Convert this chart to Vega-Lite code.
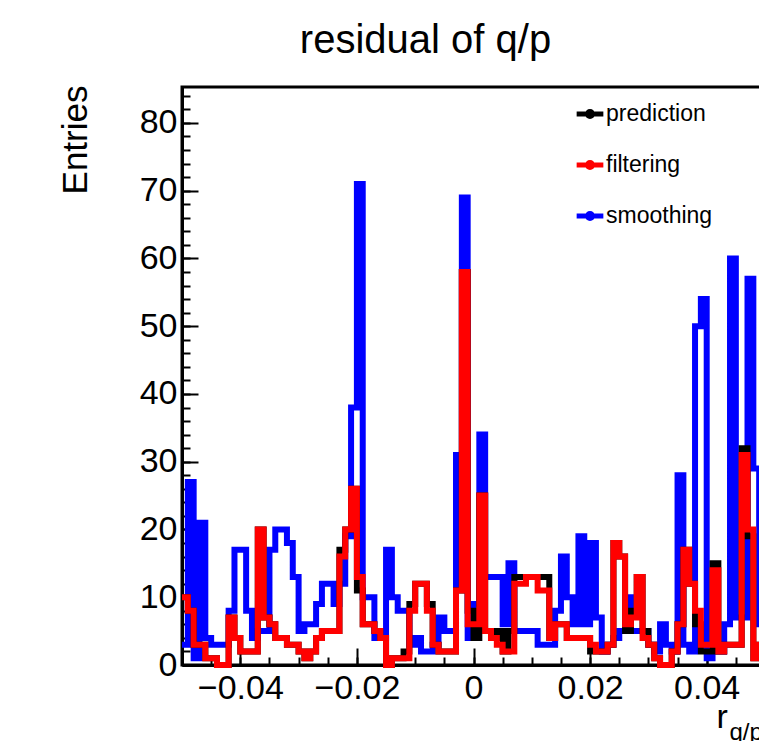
{
  "$schema": "https://vega.github.io/schema/vega-lite/v6.json",
  "autosize": "none",
  "padding": {"left": 182, "top": 87, "right": 0, "bottom": 76},
  "width": 583,
  "height": 578,
  "background": "white",
  "config": {"view": {"stroke": "black", "strokeWidth": 3}, "font": "Liberation Sans"},
  "title": {"text": "residual of q/p", "fontSize": 40, "font": "Liberation Sans", "fontWeight": "normal", "anchor": "middle", "dx": -48, "dy": 43, "offset": 35, "baseline": "alphabetic", "color": "black"},
  "data": {"values": [
    {"x": -0.05, "prediction": 10, "filtering": 10, "smoothing": 3},
    {"x": -0.049, "prediction": 8, "filtering": 8, "smoothing": 27},
    {"x": -0.048, "prediction": 3, "filtering": 3, "smoothing": 1},
    {"x": -0.047, "prediction": 3, "filtering": 3, "smoothing": 21},
    {"x": -0.046, "prediction": 1, "filtering": 1, "smoothing": 4},
    {"x": -0.045, "prediction": 1, "filtering": 1, "smoothing": 3},
    {"x": -0.044, "prediction": 0, "filtering": 0, "smoothing": 3},
    {"x": -0.043, "prediction": 0, "filtering": 0, "smoothing": 3},
    {"x": -0.042, "prediction": 7, "filtering": 7, "smoothing": 8},
    {"x": -0.041, "prediction": 4, "filtering": 4, "smoothing": 17},
    {"x": -0.04, "prediction": 2, "filtering": 2, "smoothing": 17},
    {"x": -0.039, "prediction": 2, "filtering": 2, "smoothing": 8},
    {"x": -0.038, "prediction": 2, "filtering": 2, "smoothing": 4},
    {"x": -0.037, "prediction": 20, "filtering": 20, "smoothing": 5},
    {"x": -0.036, "prediction": 7, "filtering": 7, "smoothing": 5},
    {"x": -0.035, "prediction": 6, "filtering": 6, "smoothing": 17},
    {"x": -0.034, "prediction": 4, "filtering": 4, "smoothing": 20},
    {"x": -0.033, "prediction": 4, "filtering": 4, "smoothing": 20},
    {"x": -0.032, "prediction": 3, "filtering": 3, "smoothing": 18},
    {"x": -0.031, "prediction": 3, "filtering": 3, "smoothing": 13},
    {"x": -0.03, "prediction": 2, "filtering": 2, "smoothing": 5},
    {"x": -0.029, "prediction": 1, "filtering": 1, "smoothing": 6},
    {"x": -0.028, "prediction": 2, "filtering": 2, "smoothing": 6},
    {"x": -0.027, "prediction": 4, "filtering": 4, "smoothing": 9},
    {"x": -0.026, "prediction": 5, "filtering": 5, "smoothing": 12},
    {"x": -0.025, "prediction": 5, "filtering": 5, "smoothing": 12},
    {"x": -0.024, "prediction": 5, "filtering": 5, "smoothing": 9},
    {"x": -0.023, "prediction": 17, "filtering": 16, "smoothing": 12},
    {"x": -0.022, "prediction": 20, "filtering": 20, "smoothing": 19},
    {"x": -0.021, "prediction": 26, "filtering": 26, "smoothing": 38},
    {"x": -0.02, "prediction": 11, "filtering": 13, "smoothing": 71},
    {"x": -0.019, "prediction": 6, "filtering": 6, "smoothing": 10},
    {"x": -0.018, "prediction": 6, "filtering": 6, "smoothing": 10},
    {"x": -0.017, "prediction": 5, "filtering": 5, "smoothing": 4},
    {"x": -0.016, "prediction": 4, "filtering": 4, "smoothing": 4},
    {"x": -0.015, "prediction": 0, "filtering": 0, "smoothing": 17},
    {"x": -0.014, "prediction": 1, "filtering": 1, "smoothing": 10},
    {"x": -0.013, "prediction": 1, "filtering": 1, "smoothing": 8},
    {"x": -0.012, "prediction": 2, "filtering": 1, "smoothing": 8},
    {"x": -0.011, "prediction": 9, "filtering": 8, "smoothing": 3},
    {"x": -0.01, "prediction": 12, "filtering": 12, "smoothing": 4},
    {"x": -0.009, "prediction": 12, "filtering": 12, "smoothing": 2},
    {"x": -0.008, "prediction": 9, "filtering": 8, "smoothing": 2},
    {"x": -0.007, "prediction": 3, "filtering": 3, "smoothing": 3},
    {"x": -0.006, "prediction": 2, "filtering": 2, "smoothing": 7},
    {"x": -0.005, "prediction": 2, "filtering": 2, "smoothing": 5},
    {"x": -0.004, "prediction": 2, "filtering": 2, "smoothing": 5},
    {"x": -0.003, "prediction": 11, "filtering": 11, "smoothing": 31},
    {"x": -0.002, "prediction": 58, "filtering": 58, "smoothing": 69},
    {"x": -0.001, "prediction": 8, "filtering": 6, "smoothing": 4},
    {"x": 0, "prediction": 4, "filtering": 6, "smoothing": 9},
    {"x": 0.001, "prediction": 25, "filtering": 25, "smoothing": 34},
    {"x": 0.002, "prediction": 5, "filtering": 5, "smoothing": 13},
    {"x": 0.003, "prediction": 4, "filtering": 4, "smoothing": 13},
    {"x": 0.004, "prediction": 5, "filtering": 3, "smoothing": 13},
    {"x": 0.005, "prediction": 2, "filtering": 2, "smoothing": 6},
    {"x": 0.006, "prediction": 5, "filtering": 2, "smoothing": 15},
    {"x": 0.007, "prediction": 13, "filtering": 12, "smoothing": 5},
    {"x": 0.008, "prediction": 13, "filtering": 12, "smoothing": 5},
    {"x": 0.009, "prediction": 13, "filtering": 13, "smoothing": 5},
    {"x": 0.01, "prediction": 13, "filtering": 13, "smoothing": 5},
    {"x": 0.011, "prediction": 13, "filtering": 11, "smoothing": 3},
    {"x": 0.012, "prediction": 13, "filtering": 11, "smoothing": 3},
    {"x": 0.013, "prediction": 4, "filtering": 4, "smoothing": 3},
    {"x": 0.014, "prediction": 6, "filtering": 6, "smoothing": 8},
    {"x": 0.015, "prediction": 6, "filtering": 6, "smoothing": 16},
    {"x": 0.016, "prediction": 4, "filtering": 4, "smoothing": 10},
    {"x": 0.017, "prediction": 4, "filtering": 4, "smoothing": 6},
    {"x": 0.018, "prediction": 4, "filtering": 4, "smoothing": 19},
    {"x": 0.019, "prediction": 4, "filtering": 4, "smoothing": 6},
    {"x": 0.02, "prediction": 2, "filtering": 3, "smoothing": 18},
    {"x": 0.021, "prediction": 2, "filtering": 2, "smoothing": 7},
    {"x": 0.022, "prediction": 2, "filtering": 2, "smoothing": 2},
    {"x": 0.023, "prediction": 3, "filtering": 3, "smoothing": 3},
    {"x": 0.024, "prediction": 18, "filtering": 18, "smoothing": 4},
    {"x": 0.025, "prediction": 16, "filtering": 16, "smoothing": 5},
    {"x": 0.026, "prediction": 5, "filtering": 6, "smoothing": 10},
    {"x": 0.027, "prediction": 8, "filtering": 7, "smoothing": 5},
    {"x": 0.028, "prediction": 13, "filtering": 13, "smoothing": 5},
    {"x": 0.029, "prediction": 5, "filtering": 4, "smoothing": 5},
    {"x": 0.03, "prediction": 3, "filtering": 3, "smoothing": 3},
    {"x": 0.031, "prediction": 1, "filtering": 1, "smoothing": 2},
    {"x": 0.032, "prediction": 0, "filtering": 0, "smoothing": 6},
    {"x": 0.033, "prediction": 0, "filtering": 0, "smoothing": 3},
    {"x": 0.034, "prediction": 2, "filtering": 2, "smoothing": 2},
    {"x": 0.035, "prediction": 6, "filtering": 6, "smoothing": 28},
    {"x": 0.036, "prediction": 17, "filtering": 17, "smoothing": 3},
    {"x": 0.037, "prediction": 12, "filtering": 12, "smoothing": 2},
    {"x": 0.038, "prediction": 6, "filtering": 8, "smoothing": 50},
    {"x": 0.039, "prediction": 2, "filtering": 3, "smoothing": 54},
    {"x": 0.04, "prediction": 2, "filtering": 3, "smoothing": 1},
    {"x": 0.041, "prediction": 15, "filtering": 14, "smoothing": 2},
    {"x": 0.042, "prediction": 2, "filtering": 2, "smoothing": 2},
    {"x": 0.043, "prediction": 3, "filtering": 3, "smoothing": 6},
    {"x": 0.044, "prediction": 3, "filtering": 3, "smoothing": 60},
    {"x": 0.045, "prediction": 3, "filtering": 3, "smoothing": 7},
    {"x": 0.046, "prediction": 32, "filtering": 31, "smoothing": 7},
    {"x": 0.047, "prediction": 19, "filtering": 20, "smoothing": 57},
    {"x": 0.048, "prediction": 1, "filtering": 1, "smoothing": 29},
    {"x": 0.049, "prediction": 3, "filtering": 3, "smoothing": 6},
    {"x": 0.05, "prediction": 3, "filtering": 3, "smoothing": 6}
  ]},
  "layer": [
    {
      "mark": {"type": "line", "interpolate": "step-after", "strokeWidth": 6, "strokeJoin": "miter", "opacity": 1},
      "encoding": {
        "x": {"field": "x", "type": "quantitative",
          "scale": {"domain": [-0.05, 0.05], "nice": false, "zero": false},
          "axis": {"orient": "bottom", "values": [-0.04, -0.02, 0, 0.02, 0.04], "format": ".2~f", "tickSize": -17, "tickWidth": 2, "tickColor": "black", "domainWidth": 3, "domainColor": "black", "labelFontSize": 34, "labelFont": "Liberation Sans", "labelColor": "black", "labelPadding": 23, "labelFlush": false, "labelOverlap": false, "grid": false,
            "title": "r", "titleFontSize": 34, "titleFont": "Liberation Sans", "titleFontWeight": "normal", "titleColor": "black", "titleX": 534, "titleY": 62, "titleAlign": "left", "titleBaseline": "alphabetic", "titleAnchor": null}},
        "y": {"field": "smoothing", "type": "quantitative",
          "scale": {"domain": [0, 85.3], "nice": false, "zero": true},
          "axis": {"orient": "left", "values": [0, 10, 20, 30, 40, 50, 60, 70, 80], "tickSize": -16, "tickWidth": 2, "tickColor": "black", "domainWidth": 3, "domainColor": "black", "labelFontSize": 34, "labelFont": "Liberation Sans", "labelColor": "black", "labelPadding": 21, "labelFlush": false, "labelOverlap": false, "grid": false,
            "title": "Entries", "titleFontSize": 35, "titleFont": "Liberation Sans", "titleFontWeight": "normal", "titleColor": "black", "titleAngle": -90, "titleX": -96, "titleY": -2, "titleAlign": "right", "titleBaseline": "alphabetic"}},
        "color": {"datum": "smoothing", "type": "nominal",
          "scale": {"domain": ["prediction", "filtering", "smoothing"], "range": ["#000000", "#ff0000", "#0000ff"]},
          "legend": {"title": null, "orient": "none", "legendX": 392, "legendY": 11, "padding": 0,
            "symbolType": "M-1,0H1M-0.19,0A0.19,0.19 0 1,0 0.19,0A0.19,0.19 0 1,0 -0.19,0Z",
            "symbolSize": 713, "symbolStrokeWidth": 5, "symbolOpacity": 1, "labelFontSize": 23, "labelFont": "Liberation Sans", "labelColor": "black", "labelOffset": 0, "rowPadding": 22}}
      }
    },
    {
      "mark": {"type": "line", "interpolate": "step-after", "strokeWidth": 6, "strokeJoin": "miter", "opacity": 1},
      "encoding": {
        "x": {"field": "x", "type": "quantitative",
          "scale": {"domain": [-0.05, 0.05], "nice": false, "zero": false},
          "axis": {"orient": "bottom", "values": [-0.045, -0.04, -0.035, -0.03, -0.025, -0.02, -0.015, -0.01, -0.005, 0, 0.005, 0.01, 0.015, 0.02, 0.025, 0.03, 0.035, 0.04, 0.045], "tickSize": -8, "tickWidth": 2, "tickColor": "black", "labels": false, "domain": false, "grid": false, "title": null}},
        "y": {"field": "prediction", "type": "quantitative",
          "axis": {"orient": "left", "values": [0, 2, 4, 6, 8, 10, 12, 14, 16, 18, 20, 22, 24, 26, 28, 30, 32, 34, 36, 38, 40, 42, 44, 46, 48, 50, 52, 54, 56, 58, 60, 62, 64, 66, 68, 70, 72, 74, 76, 78, 80, 82, 84], "tickSize": -8, "tickWidth": 2, "tickColor": "black", "labels": false, "domain": false, "grid": false, "title": null}},
        "color": {"datum": "prediction", "type": "nominal"}
      }
    },
    {
      "mark": {"type": "line", "interpolate": "step-after", "strokeWidth": 6, "strokeJoin": "miter", "opacity": 1},
      "encoding": {
        "x": {"field": "x", "type": "quantitative",
          "axis": {"orient": "bottom", "labels": false, "ticks": false, "domain": false, "grid": false,
            "title": "q/p", "titleFontSize": 24, "titleFont": "Liberation Sans", "titleFontWeight": "normal", "titleColor": "black", "titleX": 547, "titleY": 74, "titleAlign": "left", "titleBaseline": "alphabetic"}},
        "y": {"field": "filtering", "type": "quantitative", "axis": null},
        "color": {"datum": "filtering", "type": "nominal"}
      }
    }
  ],
  "resolve": {"axis": {"x": "independent", "y": "independent"}}
}
